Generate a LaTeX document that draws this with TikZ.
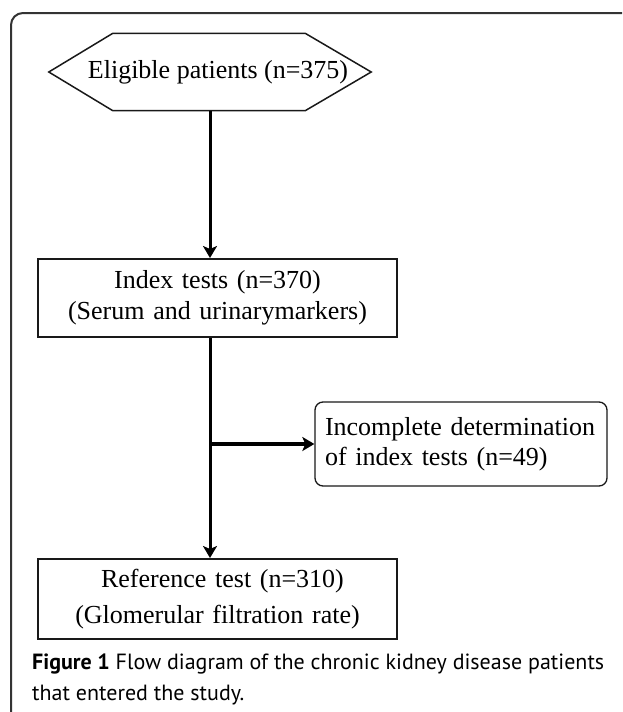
\documentclass[tikz,border=0pt]{standalone}
\usepackage{fontspec}
\setmainfont{Liberation Serif}
\newfontfamily\capfont{PT Sans}
\usetikzlibrary{arrows.meta}

\tikzset{
    flowbox/.style={draw=black!90, line width=2pt, inner xsep=0pt, inner ysep=0pt,
        minimum width=359pt, text width=359pt, align=center,
        font=\fontsize{26}{31}\selectfont},
    sidebox/.style={draw=black!90, line width=1.3pt, rounded corners=8pt,
        inner xsep=10pt, inner ysep=0pt, minimum height=84pt, text width=272pt,
        align=left, font=\fontsize{26}{30}\selectfont},
    flowarrow/.style={line width=3pt, -{Stealth[length=12pt,width=14pt,inset=3pt]}},
}

\begin{document}
\begin{tikzpicture}[x=1pt,y=-1pt]
\useasboundingbox (0,0) rectangle (622,712);

% outer frame
\draw[black!80, line width=2pt, rounded corners=12pt] (11,712) -- (11,13) -- (622,13);

% eligible patients
\node[minimum width=322pt, minimum height=77pt, inner sep=0pt,
      font=\fontsize{26}{26}\selectfont] (elig) at (210,72)
    {\hspace*{16pt}Eligible patients (n=375)};
\draw[black!90, line width=1.5pt] (elig.west) -- ([xshift=64pt]elig.north west)
    -- ([xshift=-66pt]elig.north east) -- (elig.east)
    -- ([xshift=-66pt]elig.south east) -- ([xshift=64pt]elig.south west) -- cycle;

% boxes
\node[flowbox, minimum height=78pt] (index) at (217.5,298)
    {Index tests (n=370)\\(Serum and urinarymarkers)};
\node[sidebox] (incomp) at (461,444)
    {Incomplete determination\\of index tests (n=49)};
\node[flowbox, minimum height=80pt, font=\fontsize{26}{36}\selectfont] (ref) at (217.5,599)
    {\hspace*{10pt}Reference test (n=310)\\(Glomerular filtration rate)};

% arrows
\draw[flowarrow] (elig.south) -- (elig.south |- index.north);
\draw[flowarrow] (elig.south |- index.south) -- (elig.south |- ref.north);
\draw[flowarrow, line width=4.5pt] (elig.south |- incomp.west) -- (incomp.west);

% caption
\node[anchor=north west, inner sep=0pt, align=left,
      font=\capfont\fontsize{22}{31}\selectfont] (caption) at (32,654)
    {\textbf{Figure 1} Flow diagram of the chronic kidney disease patients\\that entered the study.};
\end{tikzpicture}
\end{document}
